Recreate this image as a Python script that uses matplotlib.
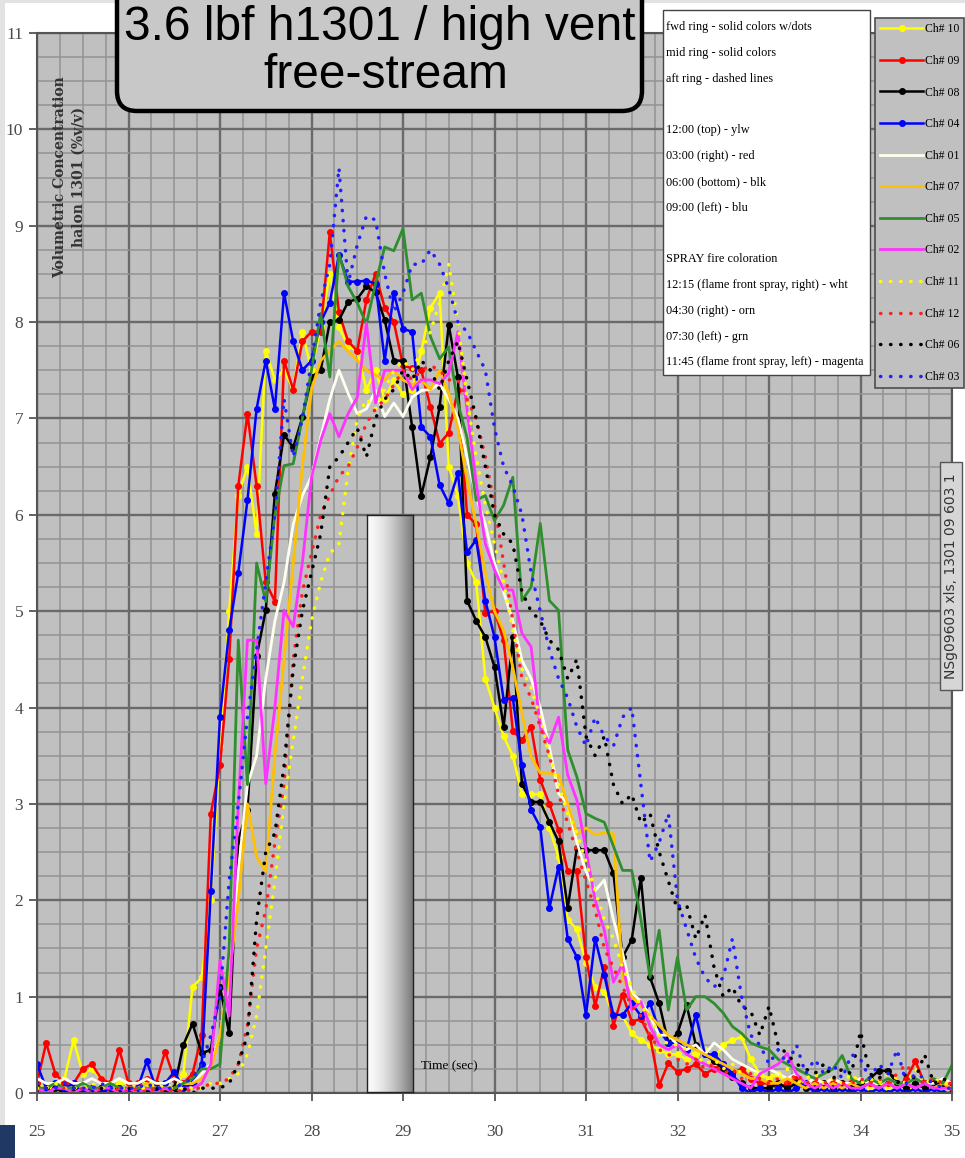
import matplotlib.pyplot as plt
import numpy as np
from matplotlib.patches import FancyBboxPatch, Rectangle
from matplotlib.ticker import MultipleLocator

W, H = 965, 1158

# sample times (s), one reading every 0.1 s
time_s = [
    25.0, 25.1, 25.2, 25.3, 25.4, 25.5, 25.6, 25.7, 25.8, 25.9,
    26.0, 26.1, 26.2, 26.3, 26.4, 26.5, 26.6, 26.7, 26.8, 26.9,
    27.0, 27.1, 27.2, 27.3, 27.4, 27.5, 27.6, 27.7, 27.8, 27.9,
    28.0, 28.1, 28.2, 28.3, 28.4, 28.5, 28.6, 28.7, 28.8, 28.9,
    29.0, 29.1, 29.2, 29.3, 29.4, 29.5, 29.6, 29.7, 29.8, 29.9,
    30.0, 30.1, 30.2, 30.3, 30.4, 30.5, 30.6, 30.7, 30.8, 30.9,
    31.0, 31.1, 31.2, 31.3, 31.4, 31.5, 31.6, 31.7, 31.8, 31.9,
    32.0, 32.1, 32.2, 32.3, 32.4, 32.5, 32.6, 32.7, 32.8, 32.9,
    33.0, 33.1, 33.2, 33.3, 33.4, 33.5, 33.6, 33.7, 33.8, 33.9,
    34.0, 34.1, 34.2, 34.3, 34.4, 34.5, 34.6, 34.7, 34.8, 34.9,
    35.0,
]

# halon 1301 concentration (% v/v) per channel
ch10 = [0.10, 0.05, 0.05, 0.15, 0.55, 0.20, 0.25, 0.15, 0.05, 0.10,
        0.10, 0.05, 0.10, 0.10, 0.10, 0.05, 0.20, 1.10, 1.20, 2.00,
        3.60, 5.00, 6.20, 6.50, 5.80, 7.70, 7.40, 7.50, 7.30, 7.90,
        7.50, 7.95, 8.50, 7.95, 7.75, 7.70, 7.30, 7.50, 7.20, 7.40,
        7.25, 7.30, 7.70, 8.15, 8.30, 6.50, 6.20, 5.50, 5.30, 4.30,
        4.00, 3.70, 3.50, 3.10, 3.10, 3.10, 2.75, 2.45, 1.80, 1.70,
        1.35, 1.10, 1.05, 0.80, 0.80, 0.62, 0.55, 0.50, 0.45, 0.40,
        0.40, 0.35, 0.40, 0.45, 0.35, 0.50, 0.55, 0.58, 0.35, 0.20,
        0.15, 0.20, 0.10, 0.15, 0.10, 0.05, 0.10, 0.05, 0.10, 0.05,
        0.10, 0.05, 0.10, 0.05, 0.10, 0.05, 0.05, 0.10, 0.05, 0.10,
        0.05]
ch09 = [0.10, 0.52, 0.20, 0.10, 0.10, 0.25, 0.30, 0.15, 0.10, 0.45,
        0.10, 0.10, 0.15, 0.10, 0.43, 0.15, 0.10, 0.20, 0.60, 2.90,
        3.40, 4.50, 6.30, 7.05, 6.30, 5.30, 5.10, 7.60, 7.30, 7.80,
        7.90, 7.90, 8.93, 8.10, 7.80, 7.70, 8.23, 8.50, 8.15, 8.00,
        7.55, 7.52, 7.50, 7.12, 6.74, 6.85, 7.30, 6.00, 5.90, 4.98,
        5.00, 4.70, 3.76, 3.66, 3.80, 3.25, 3.00, 2.73, 2.30, 2.30,
        1.41, 0.90, 1.31, 0.70, 1.02, 0.74, 0.77, 0.58, 0.08, 0.31,
        0.22, 0.25, 0.30, 0.20, 0.25, 0.30, 0.20, 0.25, 0.15, 0.10,
        0.10, 0.05, 0.10, 0.15, 0.05, 0.10, 0.05, 0.10, 0.05, 0.10,
        0.05, 0.10, 0.05, 0.10, 0.05, 0.15, 0.33, 0.10, 0.05, 0.10,
        0.05]
ch08 = [0.05, 0.00, 0.05, 0.00, 0.05, 0.00, 0.05, 0.05, 0.00, 0.05,
        0.00, 0.05, 0.00, 0.05, 0.00, 0.05, 0.50, 0.72, 0.41, 0.45,
        1.10, 0.62, 2.62, 2.94, 4.53, 5.01, 6.22, 6.83, 6.70, 7.01,
        7.43, 7.50, 8.00, 8.02, 8.21, 8.24, 8.37, 8.31, 8.02, 7.60,
        7.60, 6.91, 6.20, 6.60, 7.12, 7.97, 7.43, 5.11, 4.90, 4.73,
        4.42, 3.80, 4.73, 3.21, 3.02, 3.02, 2.81, 2.61, 1.92, 2.54,
        2.52, 2.52, 2.52, 2.28, 1.41, 1.59, 2.23, 1.20, 0.93, 0.52,
        0.62, 0.91, 0.50, 0.40, 0.33, 0.25, 0.17, 0.10, 0.05, 0.05,
        0.05, 0.10, 0.05, 0.10, 0.05, 0.05, 0.10, 0.05, 0.10, 0.05,
        0.10, 0.15, 0.23, 0.23, 0.10, 0.05, 0.10, 0.05, 0.10, 0.10,
        0.10]
ch04 = [0.30, 0.05, 0.10, 0.05, 0.10, 0.00, 0.05, 0.00, 0.05, 0.05,
        0.00, 0.05, 0.33, 0.05, 0.10, 0.22, 0.05, 0.10, 0.30, 2.10,
        3.90, 4.80, 5.40, 6.15, 7.10, 7.60, 7.10, 8.30, 7.80, 7.50,
        7.60, 8.00, 8.20, 8.70, 8.42, 8.42, 8.43, 8.40, 7.60, 8.30,
        7.93, 7.90, 6.91, 6.81, 6.31, 6.12, 6.43, 5.61, 5.74, 5.11,
        4.73, 4.08, 4.10, 3.40, 2.94, 2.76, 1.92, 2.35, 1.60, 1.41,
        0.81, 1.60, 1.22, 0.81, 0.81, 0.93, 0.80, 0.93, 0.65, 0.52,
        0.52, 0.45, 0.81, 0.40, 0.40, 0.30, 0.20, 0.05, 0.00, 0.05,
        0.00, 0.05, 0.00, 0.05, 0.10, 0.00, 0.05, 0.00, 0.05, 0.00,
        0.05, 0.00, 0.05, 0.00, 0.05, 0.00, 0.05, 0.00, 0.05, 0.00,
        0.00]
ch01 = [0.15, 0.10, 0.10, 0.15, 0.10, 0.10, 0.15, 0.10, 0.10, 0.15,
        0.10, 0.10, 0.15, 0.10, 0.10, 0.15, 0.10, 0.10, 0.20, 0.30,
        0.60, 1.20, 2.30, 3.20, 3.50, 4.30, 4.90, 5.30, 5.90, 6.20,
        6.40, 6.80, 7.20, 7.50, 7.26, 7.05, 7.10, 7.29, 7.02, 7.16,
        7.02, 7.22, 7.29, 7.30, 7.36, 7.20, 7.00, 6.60, 6.19, 5.90,
        5.50, 5.20, 4.90, 4.49, 4.30, 4.00, 3.59, 3.11, 3.00, 2.60,
        2.30, 2.10, 2.21, 1.80, 1.45, 1.04, 0.95, 0.80, 0.60, 0.60,
        0.50, 0.45, 0.50, 0.40, 0.52, 0.45, 0.35, 0.30, 0.25, 0.20,
        0.25, 0.20, 0.15, 0.20, 0.10, 0.15, 0.10, 0.15, 0.10, 0.10,
        0.15, 0.10, 0.10, 0.15, 0.10, 0.10, 0.15, 0.10, 0.10, 0.15,
        0.10]
ch07 = [0.05, 0.05, 0.10, 0.05, 0.05, 0.10, 0.05, 0.05, 0.10, 0.05,
        0.05, 0.05, 0.10, 0.05, 0.05, 0.05, 0.10, 0.10, 0.15, 0.25,
        0.60, 1.20, 2.00, 3.00, 2.45, 2.30, 3.50, 4.50, 5.50, 6.50,
        7.30, 7.60, 7.70, 7.80, 7.70, 7.60, 7.50, 7.45, 7.40, 7.50,
        7.40, 7.35, 7.40, 7.30, 7.50, 7.26, 6.90, 6.36, 5.90, 5.40,
        5.00, 4.80, 4.42, 3.94, 3.49, 3.32, 3.32, 3.30, 3.00, 2.69,
        2.75, 2.68, 2.70, 2.69, 1.20, 1.00, 0.90, 0.80, 0.70, 0.60,
        0.55, 0.50, 0.45, 0.40, 0.35, 0.30, 0.25, 0.20, 0.15, 0.15,
        0.10, 0.10, 0.15, 0.10, 0.05, 0.10, 0.05, 0.10, 0.05, 0.10,
        0.05, 0.10, 0.05, 0.10, 0.05, 0.10, 0.05, 0.10, 0.05, 0.10,
        0.05]
ch05 = [0.05, 0.05, 0.10, 0.05, 0.05, 0.10, 0.05, 0.05, 0.10, 0.05,
        0.05, 0.05, 0.05, 0.05, 0.05, 0.05, 0.10, 0.15, 0.25, 0.25,
        0.30, 1.50, 4.70, 3.20, 5.50, 5.10, 6.00, 6.51, 6.53, 7.00,
        7.50, 8.09, 7.43, 8.71, 8.37, 8.20, 7.98, 8.40, 8.78, 8.74,
        8.97, 8.23, 8.30, 7.85, 7.62, 7.74, 7.16, 6.80, 6.15, 6.20,
        5.94, 6.10, 6.39, 5.11, 5.25, 5.91, 5.11, 5.01, 3.56, 3.28,
        2.90, 2.85, 2.81, 2.56, 2.31, 2.31, 1.80, 1.20, 1.69, 0.86,
        1.41, 0.86, 1.00, 1.00, 0.93, 0.83, 0.69, 0.62, 0.52, 0.48,
        0.45, 0.35, 0.30, 0.25, 0.20, 0.15, 0.20, 0.25, 0.39, 0.15,
        0.10, 0.15, 0.10, 0.15, 0.10, 0.10, 0.15, 0.10, 0.15, 0.10,
        0.29]
ch02 = [0.05, 0.00, 0.05, 0.05, 0.00, 0.05, 0.00, 0.05, 0.05, 0.00,
        0.05, 0.00, 0.05, 0.00, 0.05, 0.00, 0.05, 0.05, 0.10, 0.30,
        1.38, 0.80, 3.00, 4.70, 4.70, 3.21, 4.00, 5.01, 4.84, 5.50,
        6.39, 6.77, 7.05, 6.81, 7.05, 7.22, 7.99, 7.16, 7.50, 7.50,
        7.50, 7.30, 7.40, 7.40, 7.36, 7.47, 7.90, 7.09, 6.33, 5.70,
        5.43, 5.22, 5.22, 4.77, 4.63, 3.80, 3.63, 3.90, 3.30, 3.04,
        2.52, 2.00, 1.69, 1.15, 1.34, 0.86, 0.95, 0.69, 0.50, 0.45,
        0.50, 0.40, 0.35, 0.30, 0.25, 0.20, 0.15, 0.10, 0.05, 0.20,
        0.25, 0.30, 0.41, 0.20, 0.10, 0.05, 0.10, 0.05, 0.10, 0.05,
        0.05, 0.10, 0.05, 0.10, 0.05, 0.10, 0.05, 0.10, 0.05, 0.05,
        0.05]
ch11 = [0.05, 0.05, 0.10, 0.05, 0.05, 0.05, 0.10, 0.05, 0.05, 0.05,
        0.05, 0.05, 0.05, 0.10, 0.05, 0.05, 0.05, 0.05, 0.05, 0.10,
        0.10, 0.15, 0.20, 0.40, 0.80, 1.50, 2.20, 3.00, 3.66, 4.30,
        4.90, 5.30, 5.60, 5.70, 6.46, 7.00, 7.20, 7.10, 7.30, 7.50,
        7.60, 7.50, 7.70, 7.90, 8.20, 8.60, 8.00, 7.20, 6.60, 6.10,
        5.70, 5.30, 4.80, 4.40, 4.20, 3.90, 3.50, 3.20, 2.90, 2.70,
        2.40, 2.10, 1.80, 1.60, 1.30, 1.10, 0.90, 0.80, 0.60, 0.50,
        0.50, 0.45, 0.40, 0.30, 0.35, 0.25, 0.30, 0.20, 0.25, 0.15,
        0.20, 0.15, 0.25, 0.10, 0.15, 0.20, 0.10, 0.15, 0.10, 0.20,
        0.10, 0.15, 0.10, 0.20, 0.15, 0.10, 0.25, 0.10, 0.15, 0.10,
        0.10]
ch12 = [0.00, 0.05, 0.00, 0.05, 0.00, 0.05, 0.00, 0.05, 0.00, 0.05,
        0.00, 0.05, 0.00, 0.05, 0.00, 0.05, 0.00, 0.05, 0.05, 0.10,
        0.10, 0.15, 0.30, 0.70, 1.50, 1.90, 2.60, 3.20, 4.50, 5.20,
        5.60, 6.00, 6.20, 6.40, 6.50, 6.70, 6.95, 7.10, 7.20, 7.35,
        7.50, 7.40, 7.50, 7.55, 7.50, 7.40, 7.40, 7.20, 7.00, 6.60,
        6.10, 5.50, 4.90, 4.30, 4.10, 3.80, 3.50, 3.10, 2.80, 2.50,
        2.20, 1.90, 1.50, 1.30, 1.10, 0.90, 0.80, 0.60, 0.45, 0.40,
        0.35, 0.30, 0.35, 0.25, 0.30, 0.20, 0.25, 0.15, 0.20, 0.15,
        0.10, 0.15, 0.10, 0.20, 0.10, 0.15, 0.10, 0.15, 0.10, 0.10,
        0.15, 0.10, 0.15, 0.10, 0.20, 0.30, 0.15, 0.10, 0.15, 0.10,
        0.10]
ch06 = [0.00, 0.05, 0.00, 0.00, 0.05, 0.00, 0.00, 0.05, 0.00, 0.00,
        0.05, 0.00, 0.00, 0.05, 0.00, 0.00, 0.05, 0.00, 0.05, 0.05,
        0.05, 0.10, 0.30, 0.60, 1.80, 2.50, 2.70, 3.40, 4.40, 5.00,
        5.40, 5.80, 6.50, 6.60, 6.75, 6.90, 6.60, 7.00, 7.20, 7.30,
        7.50, 7.40, 7.60, 7.50, 7.30, 7.60, 7.80, 7.40, 7.00, 6.50,
        6.00, 5.80, 5.70, 5.20, 5.00, 4.90, 4.70, 4.60, 4.30, 4.50,
        3.70, 3.50, 3.70, 3.20, 3.00, 3.10, 2.80, 2.90, 2.50, 2.20,
        1.90, 1.95, 1.60, 1.85, 1.30, 1.00, 1.10, 0.90, 0.85, 0.60,
        0.90, 0.50, 0.40, 0.30, 0.25, 0.20, 0.30, 0.15, 0.25, 0.20,
        0.64, 0.20, 0.15, 0.25, 0.10, 0.20, 0.15, 0.40, 0.10, 0.15,
        0.10]
ch03 = [0.10, 0.05, 0.05, 0.10, 0.05, 0.05, 0.05, 0.10, 0.05, 0.05,
        0.05, 0.05, 0.10, 0.05, 0.05, 0.05, 0.10, 0.15, 0.30, 0.60,
        1.00, 2.20, 3.00, 3.90, 4.60, 5.30, 6.00, 7.20, 6.60, 7.00,
        7.60, 8.20, 8.60, 9.60, 8.40, 8.80, 9.10, 9.06, 8.50, 8.10,
        8.30, 8.60, 8.60, 8.75, 8.60, 8.35, 8.00, 7.90, 7.70, 7.50,
        6.90, 6.50, 6.30, 6.00, 5.40, 5.00, 4.60, 4.30, 4.10, 3.80,
        3.60, 3.90, 3.70, 3.60, 3.90, 4.00, 3.20, 2.40, 2.60, 2.90,
        2.00, 1.70, 1.40, 1.20, 1.10, 1.20, 1.60, 1.00, 0.60, 0.50,
        0.30, 0.45, 0.30, 0.50, 0.20, 0.35, 0.20, 0.30, 0.15, 0.40,
        0.35, 0.15, 0.30, 0.20, 0.45, 0.10, 0.20, 0.15, 0.10, 0.05,
        0.05]

channel_labels = ['Ch# 10', 'Ch# 09', 'Ch# 08', 'Ch# 04', 'Ch# 01', 'Ch# 07',
                  'Ch# 05', 'Ch# 02', 'Ch# 11', 'Ch# 12', 'Ch# 06', 'Ch# 03']
channel_data = [ch10, ch09, ch08, ch04, ch01, ch07,
                ch05, ch02, ch11, ch12, ch06, ch03]

note_lines = [
    'fwd ring - solid colors w/dots',
    'mid ring - solid colors',
    'aft ring - dashed lines',
    '',
    '12:00 (top) - ylw',
    '03:00 (right) - red',
    '06:00 (bottom) - blk',
    '09:00 (left) - blu',
    '',
    'SPRAY fire coloration',
    '12:15 (flame front spray, right) - wht',
    '04:30 (right) - orn',
    '07:30 (left) - grn',
    '11:45 (flame front spray, left) - magenta',
]

# line looks: fwd ring = solid + dots, mid ring = solid, aft ring = dotted
dot_ls = (0, (0.1, 2.8))
styles = [
    dict(color='#ffff00', lw=1.8, marker='o', ms=4),
    dict(color='#ff0000', lw=1.8, marker='o', ms=4),
    dict(color='#000000', lw=1.8, marker='o', ms=4),
    dict(color='#0000ff', lw=1.8, marker='o', ms=4),
    dict(color='#fffff0', lw=2.0),
    dict(color='#ffc000', lw=2.0),
    dict(color='#2f8f2f', lw=2.0),
    dict(color='#ff33ff', lw=2.0),
    dict(color='#ffff00', lw=2.5, ls=dot_ls, dash_capstyle='round'),
    dict(color='#ff2020', lw=2.5, ls=dot_ls, dash_capstyle='round'),
    dict(color='#000000', lw=2.5, ls=dot_ls, dash_capstyle='round'),
    dict(color='#2020ff', lw=2.5, ls=dot_ls, dash_capstyle='round'),
]

serif = 'Liberation Serif'


def inch(x, y):
    # pixel position (origin top-left) -> figure inches
    return x / 100, (H - y) / 100


fig = plt.figure(figsize=(W / 100, H / 100), dpi=100)
fig.patch.set_facecolor('white')
tr_in = fig.dpi_scale_trans


def put(x, y, s, **kw):
    return fig.text(*inch(x, y), s, transform=tr_in, **kw)


ax = fig.add_axes([37 / W, 1 - 1093 / H, 915 / W, 1060 / H])
ax.set_facecolor('#c0c0c0')

handles = []
for vals, lab, st in zip(channel_data, channel_labels, styles):
    ln, = ax.plot(time_s, vals, label=lab, **st)
    handles.append(ln)

ax.set_xlim(25, 35)
ax.set_ylim(0, 11)
ax.xaxis.set_major_locator(MultipleLocator(1))
ax.yaxis.set_major_locator(MultipleLocator(1))
ax.xaxis.set_minor_locator(MultipleLocator(0.25))
ax.yaxis.set_minor_locator(MultipleLocator(0.25))
ax.set_axisbelow(True)
ax.grid(which='minor', color='#939393', lw=1.1)
ax.grid(which='major', color='#6a6a6a', lw=1.7)
ax.tick_params(which='minor', length=0)
ax.tick_params(which='major', length=6, width=1.3, color='#555555',
               labelsize=12.5, labelcolor='#4a4a4a')
ax.tick_params(axis='x', pad=16)
ax.tick_params(axis='y', pad=4)
for lab in ax.get_xticklabels() + ax.get_yticklabels():
    lab.set_family(serif)
for sp in ax.spines.values():
    sp.set_color('#555555')
    sp.set_linewidth(1.5)

# y-axis caption sits inside the plotting area
put(60, 177, 'Volumetric Concentration', rotation=90, ha='center',
    va='center', family='DejaVu Serif', weight='bold', fontsize=10,
    color='#333333')
put(79, 177, 'halon 1301 (%v/v)', rotation=90, ha='center', va='center',
    family='DejaVu Serif', weight='bold', fontsize=10, color='#333333')

put(449, 1066, 'Time (sec)', ha='center', va='center', family=serif,
    fontsize=9.5)

# shaded vertical bar over the plot
bar_ax = fig.add_axes([367 / W, 1 - 1092 / H, 46 / W, 577 / H], zorder=3)
shade = 0.02 + 0.5 * np.linspace(0, 1, 64) ** 1.6
bar_ax.imshow(shade[None, :], aspect='auto', cmap='gray_r', vmin=0, vmax=1)
bar_ax.set_xticks([])
bar_ax.set_yticks([])
for sp in bar_ax.spines.values():
    sp.set_color('#222222')
    sp.set_linewidth(1)

# title callout
fig.add_artist(FancyBboxPatch(inch(117, 111), 5.25, 1.6,
                              boxstyle='round,pad=0,rounding_size=0.2',
                              transform=tr_in, fc='#c8c8c8', ec='black',
                              lw=3.2, zorder=6))
put(380, 27, '3.6 lbf h1301 / high vent', ha='center', va='center',
    family='Liberation Sans', fontsize=34.5, zorder=7)
put(386, 75, 'free-stream', ha='center', va='center',
    family='Liberation Sans', fontsize=34.5, zorder=7)

# ring / colour notes
fig.add_artist(Rectangle(inch(663, 375), 2.07, 3.65, transform=tr_in,
                         fc='white', ec='#444444', lw=1, zorder=6))
for k, line in enumerate(note_lines):
    if line:
        put(666, 27 + 25.8 * k, line, ha='left', va='center', family=serif,
            fontsize=8.8, zorder=7)

leg = fig.legend(handles, channel_labels, loc='upper left',
                 bbox_to_anchor=(875 / W, 1 - 18 / H), frameon=True,
                 fancybox=False, facecolor='#c0c0c0', edgecolor='#4d4d4d',
                 framealpha=1, prop=dict(family=serif, size=8.5),
                 handlelength=3.6, handletextpad=0.15, labelspacing=1.66,
                 borderpad=0.45, borderaxespad=0)
leg.get_frame().set_linewidth(1.2)
leg.set_zorder(8)

# file tag on the right edge
fig.add_artist(Rectangle(inch(940, 690), 0.22, 2.28, transform=tr_in,
                         fc='#d6d6d6', ec='#555555', lw=1, zorder=6))
put(951, 576, 'NSg09603 xls, 1301 09 603 1', rotation=90, ha='center',
    va='center', family='DejaVu Sans', fontsize=10, color='#333333', zorder=7)

# slide frame remnants
fig.add_artist(Rectangle((0, 0), 0.05, H / 100, transform=tr_in,
                         fc='#e2e2e2', ec='none', zorder=0))
fig.add_artist(Rectangle((0, (H - 3) / 100), W / 100, 0.03, transform=tr_in,
                         fc='#e2e2e2', ec='none', zorder=0))
fig.add_artist(Rectangle((0, 0), 0.15, 0.33, transform=tr_in,
                         fc='#1f3864', ec='none', zorder=9))

fig.savefig('out.png', dpi=100)
